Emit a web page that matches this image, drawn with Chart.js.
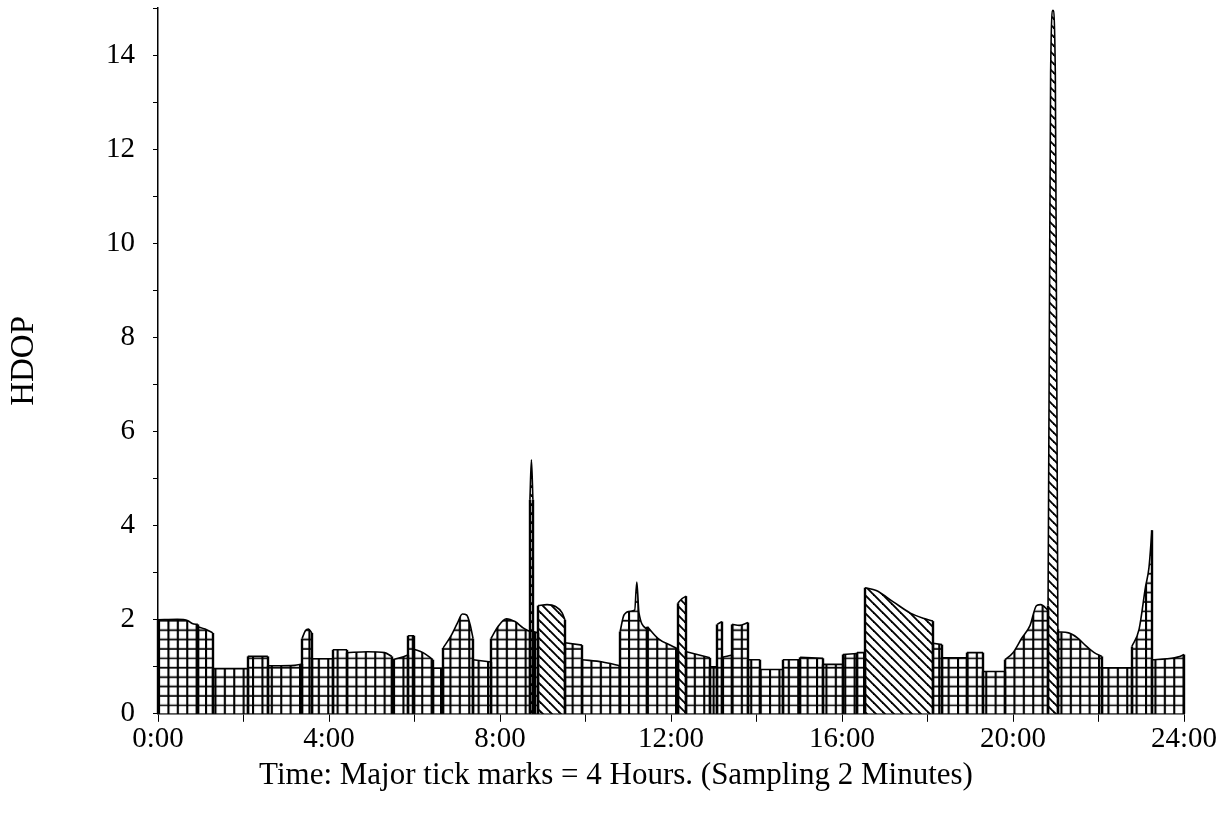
<!DOCTYPE html>
<html>
<head>
<meta charset="utf-8">
<title>HDOP</title>
<script src="https://cdn.jsdelivr.net/npm/chart.js@4/dist/chart.umd.min.js"></script>
<style>
  html, body { margin: 0; padding: 0; background: #fff; }
  #wrap { width: 1232px; height: 817px; }
</style>
</head>
<body>
<div id="wrap"><canvas id="c" width="1232" height="817"></canvas></div>
<script>
// HDOP over one day (sampling every 2 minutes). Each run between nulls is one plotted block.
// Blocks drawn with the square-grid fill:
const gridTimes = [
  0, 0.45, 0.7, 0.8, 0.93, 0.93,
  0.93, 1.1, 1.28, 1.28,
  1.28, 2.1, 2.1,
  2.1, 2.57, 2.57,
  2.57, 3.2, 3.37, 3.37,
  3.37, 3.45, 3.52, 3.6, 3.6,
  3.6, 4.09, 4.09,
  4.09, 4.42, 4.42,
  4.42, 4.9, 5.3, 5.47, 5.47,
  5.47, 5.7, 5.85, 5.85,
  5.85, 5.99, 5.99,
  5.99, 6.2, 6.43, 6.43,
  6.43, 6.67, 6.67,
  6.67, 6.85, 7.0, 7.12, 7.22, 7.3, 7.37, 7.37,
  7.37, 7.79, 7.79,
  7.79, 7.95, 8.15, 8.35, 8.55, 8.7, 8.7,
  8.77, 8.89, 8.89,
  9.52, 9.92, 9.92,
  9.92, 10.4, 10.81, 10.81,
  10.81, 10.9, 11.05, 11.15, 11.2, 11.25, 11.45, 11.45,
  11.45, 11.7, 12.0, 12.16, 12.16,
  12.36, 12.91, 12.91,
  12.91, 13.08, 13.08,
  13.08, 13.19, 13.19,
  13.19, 13.43, 13.43,
  13.43, 13.6, 13.8, 13.8,
  13.8, 14.08, 14.08,
  14.08, 14.62, 14.62,
  14.62, 15.02, 15.02,
  15.02, 15.56, 15.56,
  15.56, 16.02, 16.02,
  16.02, 16.35, 16.35,
  16.35, 16.54, 16.54,
  18.13, 18.34, 18.34,
  18.34, 18.92, 18.92,
  18.92, 19.3, 19.3,
  19.3, 19.81, 19.81,
  19.81, 20.0, 20.2, 20.4, 20.55, 20.65, 20.82, 20.82,
  21.05, 21.3, 21.5, 21.7, 21.9, 22.08, 22.08,
  22.08, 22.78, 22.78,
  22.78, 22.95, 23.1, 23.18, 23.25, 23.25,
  23.25, 23.6, 23.9, 24.0
];
const gridHdop = [
  2.0, 2.01, 1.98, 1.92, 1.9, null,
  1.85, 1.8, 1.72, null,
  0.96, 0.96, null,
  1.22, 1.22, null,
  1.02, 1.03, 1.06, null,
  1.6, 1.77, 1.8, 1.72, null,
  1.17, 1.17, null,
  1.36, 1.36, null,
  1.3, 1.32, 1.3, 1.22, null,
  1.15, 1.2, 1.25, null,
  1.66, 1.66, null,
  1.37, 1.3, 1.15, null,
  0.97, 0.97, null,
  1.4, 1.65, 1.92, 2.12, 2.1, 1.9, 1.6, null,
  1.15, 1.1, null,
  1.6, 1.85, 2.02, 1.96, 1.82, 1.75, null,
  1.75, 1.72, null,
  1.51, 1.46, null,
  1.15, 1.1, 1.02, null,
  1.75, 2.1, 2.18, 2.2, 2.8, 2.15, 1.78, null,
  1.85, 1.6, 1.45, 1.38, null,
  1.32, 1.19, null,
  1.0, 1.0, null,
  1.9, 1.96, null,
  1.2, 1.25, null,
  1.9, 1.88, 1.94, null,
  1.15, 1.15, null,
  0.94, 0.94, null,
  1.15, 1.15, null,
  1.2, 1.18, null,
  1.05, 1.05, null,
  1.26, 1.28, null,
  1.3, 1.3, null,
  1.5, 1.47, null,
  1.19, 1.19, null,
  1.3, 1.3, null,
  0.9, 0.9, null,
  1.15, 1.3, 1.6, 1.88, 2.3, 2.32, 2.2, null,
  1.74, 1.72, 1.62, 1.45, 1.3, 1.22, null,
  0.98, 0.98, null,
  1.43, 1.8, 2.7, 3.1, 3.9, null,
  1.15, 1.17, 1.22, 1.26
];

// Blocks drawn with the diagonal-line fill:
const hatchTimes = [
  8.7, 8.735, 8.77, 8.77,
  8.89, 9.1, 9.3, 9.45, 9.52, 9.52,
  12.16, 12.26, 12.36, 12.36,
  16.54, 16.8, 17.2, 17.6, 17.9, 18.13, 18.13,
  20.82, 20.85, 20.88, 20.935, 20.99, 21.02, 21.05
];
const hatchHdop = [
  4.55, 5.4, 4.55, null,
  2.3, 2.32, 2.28, 2.15, 2.0, null,
  2.35, 2.45, 2.5, null,
  2.68, 2.62, 2.38, 2.14, 2.03, 1.97, null,
  2.3, 8.0, 13.6, 14.95, 13.6, 8.0, 1.8
];

// Axis ticks
const hourTicks = [0, 4, 8, 12, 16, 20, 24];
const hdopTicks = [0, 2, 4, 6, 8, 10, 12, 14];

const FONT = 'Liberation Serif';
Chart.defaults.font.family = FONT;
Chart.defaults.color = '#000';

const toPoints = (ts, vs) => ts.map((t, i) => ({ x: t, y: vs[i] }));

const patternCache = {};
function gridPattern(chart) {
  const area = chart.chartArea;
  if (!area) return 'rgba(0,0,0,0)';
  const key = 'grid' + area.left + ',' + area.bottom;
  if (patternCache[key]) return patternCache[key];
  const tile = 47, n = 5;
  const c = document.createElement('canvas');
  c.width = tile; c.height = tile;
  const g = c.getContext('2d');
  g.fillStyle = '#fff';
  g.fillRect(0, 0, tile, tile);
  g.strokeStyle = '#000';
  for (let k = 0; k < n; k++) {
    const p = k * tile / n;
    g.lineWidth = 2.1;
    g.beginPath(); g.moveTo(p + 1, 0); g.lineTo(p + 1, tile); g.stroke();
    g.lineWidth = 1.7;
    g.beginPath(); g.moveTo(0, p + 0.9); g.lineTo(tile, p + 0.9); g.stroke();
  }
  const pat = chart.ctx.createPattern(c, 'repeat');
  pat.setTransform(new DOMMatrix().translate(area.left, area.bottom));
  patternCache[key] = pat;
  return pat;
}

function hatchPattern(chart) {
  if (patternCache.hatch) return patternCache.hatch;
  const s = 9;
  const c = document.createElement('canvas');
  c.width = s; c.height = s;
  const g = c.getContext('2d');
  g.fillStyle = '#fff';
  g.fillRect(0, 0, s, s);
  g.strokeStyle = '#000';
  g.lineWidth = 1.9;
  for (let k = -1; k <= 1; k++) {
    g.beginPath();
    g.moveTo(k * s - 1, -1);
    g.lineTo(k * s + s + 1, s + 1);
    g.stroke();
  }
  patternCache.hatch = chart.ctx.createPattern(c, 'repeat');
  return patternCache.hatch;
}

// Draws the vertical outline at the start and end of every block, down to HDOP 0
const blockEdges = {
  id: 'blockEdges',
  afterDatasetsDraw(chart) {
    const { ctx, scales: { x, y } } = chart;
    const y0 = y.getPixelForValue(0);
    ctx.save();
    ctx.strokeStyle = '#000';
    ctx.lineWidth = 2.4;
    chart.data.datasets.forEach(ds => {
      const d = ds.data;
      d.forEach((p, i) => {
        if (p.y == null) return;
        const prev = d[i - 1], next = d[i + 1];
        const isStart = !prev || prev.y == null;
        const isEnd = !next || next.y == null;
        if (isStart || isEnd) {
          const px = Math.round(x.getPixelForValue(p.x));
          ctx.beginPath();
          ctx.moveTo(px, y.getPixelForValue(p.y));
          ctx.lineTo(px, y0);
          ctx.stroke();
        }
      });
    });
    ctx.restore();
  }
};

new Chart(document.getElementById('c'), {
  type: 'line',
  data: {
    datasets: [
      {
        label: 'HDOP',
        data: toPoints(gridTimes, gridHdop),
        backgroundColor: (ctx) => gridPattern(ctx.chart),
        borderColor: '#000',
        borderWidth: 1.6,
        fill: 'origin',
        pointRadius: 0,
        spanGaps: false,
        cubicInterpolationMode: 'monotone'
      },
      {
        label: 'HDOP (alt.)',
        data: toPoints(hatchTimes, hatchHdop),
        backgroundColor: (ctx) => hatchPattern(ctx.chart),
        borderColor: '#000',
        borderWidth: 1.6,
        fill: 'origin',
        pointRadius: 0,
        spanGaps: false,
        cubicInterpolationMode: 'monotone'
      }
    ]
  },
  options: {
    responsive: false,
    animation: false,
    devicePixelRatio: 1,
    layout: { padding: 0 },
    plugins: {
      legend: { display: false },
      tooltip: { enabled: false },
      title: {
        display: true,
        position: 'bottom',
        text: 'Time: Major tick marks = 4 Hours. (Sampling 2 Minutes)',
        color: '#000',
        font: { family: FONT, size: 31, weight: 'normal' },
        padding: { top: 3, bottom: 23 }
      }
    },
    scales: {
      x: {
        type: 'linear',
        min: 0,
        max: 24,
        afterBuildTicks: (scale) => {
          const t = [];
          for (let h = hourTicks[0]; h <= hourTicks[hourTicks.length - 1]; h += 2) t.push({ value: h });
          scale.ticks = t;
        },
        ticks: {
          autoSkip: false,
          maxRotation: 0,
          padding: 0,
          color: '#000',
          font: { family: FONT, size: 29 },
          callback: (v) => hourTicks.includes(v) ? v + ':00' : ''
        },
        grid: {
          drawOnChartArea: false,
          drawTicks: true,
          tickLength: 8,
          color: '#000',
          lineWidth: 1
        },
        border: { display: true, color: '#000', width: 1.5 },
        afterFit: (scale) => {
          scale.height = 40;
          scale.paddingRight = 48;
          scale.paddingLeft = 0;
        }
      },
      y: {
        min: 0,
        max: 15,
        ticks: {
          stepSize: 1,
          padding: 18,
          color: '#000',
          font: { family: FONT, size: 29 },
          callback: (v) => hdopTicks.includes(v) ? String(v) : ''
        },
        grid: {
          drawOnChartArea: false,
          drawTicks: true,
          tickLength: 5,
          color: '#000',
          lineWidth: 1
        },
        border: { display: true, color: '#000', width: 1.5 },
        title: {
          display: true,
          text: 'HDOP',
          color: '#000',
          font: { family: FONT, size: 33, weight: 'normal' },
          padding: { top: 5, bottom: 0 }
        },
        afterFit: (scale) => {
          scale.width = 158;
          scale.paddingTop = 8;
          scale.paddingBottom = 0;
        }
      }
    }
  },
  plugins: [blockEdges]
});
</script>
</body>
</html>
